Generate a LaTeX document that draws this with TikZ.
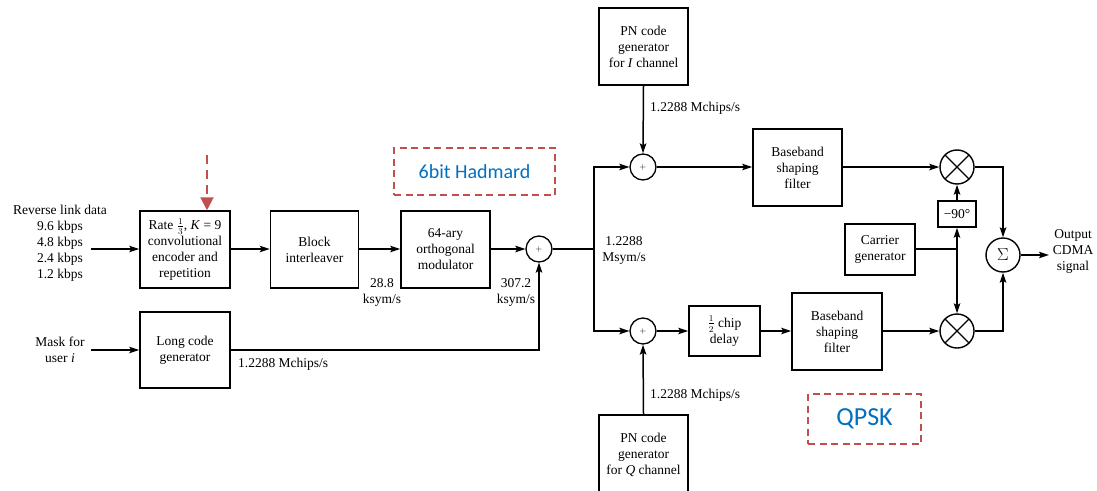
\documentclass[tikz,border=0pt]{standalone}
\usepackage{fontspec}
\setmainfont{Liberation Serif}
\newfontfamily\notefont{Carlito}
\usepackage{amsmath}
\usetikzlibrary{arrows.meta,positioning,calc}
\definecolor{myred}{RGB}{192,80,77}
\definecolor{myblue}{RGB}{0,112,192}
\newcommand\dgfont{\fontsize{13.5}{16}\selectfont}

\begin{document}
\begin{tikzpicture}[x=1pt,y=-1pt,
  box/.style={
    rectangle, draw, line width=1.5pt,
    inner sep=1pt, align=center, font=\dgfont},
  lbl/.style={inner sep=0pt, align=center, font=\dgfont},
  adder/.style={circle, draw, line width=1.3pt, minimum size=26pt,
    inner sep=0pt, font=\footnotesize},
  mult/.style={circle, draw, line width=1.4pt, minimum size=34pt,
    inner sep=0pt,
    path picture={\draw[line width=1.3pt]
      (path picture bounding box.north west)--(path picture bounding box.south east)
      (path picture bounding box.south west)--(path picture bounding box.north east);}},
  note/.style={draw=myred, line width=1.8pt, dash pattern=on 7pt off 4.5pt,
    text=myblue, font=\notefont},
  arr/.style={-{Stealth[length=10pt,width=6.5pt,inset=2pt]}, line width=1.5pt},
  line/.style={line width=1.5pt},
  redarr/.style={-{Triangle[length=13pt,width=13pt]}, line width=2pt,
    color=myred, dash pattern=on 9pt off 6pt}
]
  \useasboundingbox (0,0) rectangle (1097,490);

  % upper chain
  \node[box, minimum width=90pt, minimum height=77pt] (rate) at (185,249.5)
    {Rate $\frac{1}{3}$, \textit{K} = 9\\convolutional\\encoder and\\repetition};
  \node[box, minimum width=88pt, minimum height=77pt, right=39pt of rate] (inter)
    {Block\\interleaver};
  \node[box, minimum width=89pt, minimum height=77pt, right=41pt of inter] (orth)
    {64-ary\\orthogonal\\modulator};
  \node[adder] (add1) at (539,249) {$+$};
  \node[box, minimum width=90pt, minimum height=76pt] (longc) at (185,350)
    {Long code\\generator};

  \node[lbl] (rev) at (60,243)
    {Reverse link data\\9.6 kbps\\4.8 kbps\\2.4 kbps\\1.2 kbps};
  \node[lbl] (mask) at (60,350) {Mask for\\user \textit{i}};
  \coordinate (revin) at (91,249);
  \coordinate (maskin) at (91,350);

  % I and Q branches
  \node[box, minimum width=89pt, minimum height=77pt] (pnI) at (643.5,46.5)
    {PN code\\generator\\for \textit{I} channel};
  \node[adder] (addI) at (643,167) {$+$};
  \node[box, minimum width=89pt, minimum height=77pt] (bbI) at (797.5,167.5)
    {Baseband\\shaping\\filter};
  \node[mult] (multI) at (957,167) {};

  \node[adder] (addQ) at (643,331) {$+$};
  \node[box, minimum width=71pt, minimum height=50pt] (delay) at (724.5,331)
    {$\frac{1}{2}$ chip\\delay};
  \node[box, minimum width=90pt, minimum height=77pt] (bbQ) at (837,331.5)
    {Baseband\\shaping\\filter};
  \node[mult] (multQ) at (957,331) {};
  \node[box, minimum width=89pt, minimum height=80pt] (pnQ) at (643.5,455)
    {PN code\\generator\\for \textit{Q} channel};

  \node[box, minimum width=38pt, minimum height=26pt] (m90) at (957,214) {−90°};
  \node[box, minimum width=70pt, minimum height=51pt] (carr) at (880,249.5)
    {Carrier\\generator};
  \node[circle, draw, line width=1.4pt, minimum size=34pt, inner sep=0pt,
    font=\LARGE] (sig) at (1003,255) {$\Sigma$};
  \node[lbl] (out) at (1073,251) {Output\\CDMA\\signal};

  \coordinate (split) at (594,249);
  \coordinate (cj) at (957,249);
  \coordinate (outend) at (1049,255);

  % rate labels
  \node[lbl] (r288) at (382,292.5) {28.8\\ksym/s};
  \node[lbl] (r3072) at (516,292.5) {307.2\\ksym/s};
  \node[lbl, anchor=west] (rlong) at (238,364) {1.2288 Mchips/s};
  \node[lbl] (rsym) at (624,250) {1.2288\\Msym/s};
  \node[lbl, anchor=west] (rpnI) at (650,108) {1.2288 Mchips/s};
  \node[lbl, anchor=west] (rpnQ) at (650,395) {1.2288 Mchips/s};

  % connectors
  \draw[arr] (revin) -- (rate.west |- revin);
  \draw[arr] (maskin) -- (longc.west);
  \draw[arr] (rate.east |- revin) -- (inter.west |- revin);
  \draw[arr] (inter.east |- revin) -- (orth.west |- revin);
  \draw[arr] (orth.east |- add1) -- (add1.west);
  \draw[arr] (longc.east) -| (add1.south);
  \draw[line] (add1.east) -- (split);
  \draw[arr] (split) |- (addI.west);
  \draw[arr] (split) |- (addQ.west);
  \draw[arr] (pnI.south) -- (addI.north);
  \draw[arr] (pnQ.north) -- (addQ.south);
  \draw[arr] (addI.east) -- (bbI.west |- addI);
  \draw[arr] (bbI.east |- multI) -- (multI.west);
  \draw[arr] (addQ.east) -- (delay.west);
  \draw[arr] (delay.east) -- (bbQ.west |- delay);
  \draw[arr] (bbQ.east |- multQ) -- (multQ.west);
  \draw[line] (carr.east |- cj) -- (cj);
  \draw[arr] (cj) -- (m90.south);
  \draw[arr] (m90.north) -- (multI.south);
  \draw[arr] (cj) -- (multQ.north);
  \draw[arr] (multI.east) -| (sig.north);
  \draw[arr] (multQ.east) -| (sig.south);
  \draw[arr] (sig.east) -- (outend);

  % annotations
  \node[note, minimum width=161pt, minimum height=47pt, font=\notefont\fontsize{20}{24}\selectfont]
    (hadm) at (474.5,171.5) {6bit Hadmard\hspace{8pt}};
  \node[note, minimum width=113pt, minimum height=50pt, font=\notefont\fontsize{26}{30}\selectfont]
    (qpsk) at (864.5,419) {QPSK\hspace{12pt}};
  \coordinate (redtop) at (207,155);
  \draw[redarr] (redtop) -- (redtop |- rate.north);
\end{tikzpicture}
\end{document}
